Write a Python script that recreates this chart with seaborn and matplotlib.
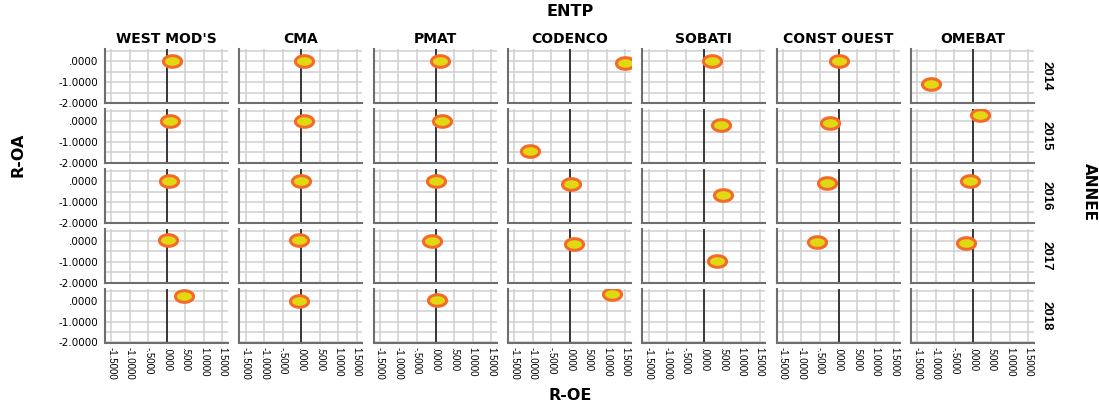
import numpy as np
import pandas as pd
import seaborn as sns
import matplotlib.pyplot as plt
from matplotlib.path import Path
from matplotlib.markers import MarkerStyle
from matplotlib.ticker import FuncFormatter
from matplotlib import font_manager

entp = ["WEST MOD'S", "CMA", "PMAT", "CODENCO", "SOBATI", "CONST OUEST", "OMEBAT"]
annees = [2014, 2015, 2016, 2017, 2018]

# R-OE (x) and R-OA (y) per year, one value per company (None = no data)
roe_2014 = [0.13, 0.07, 0.11, 1.49, 0.20, 0.00, -1.14]
roa_2014 = [0.03, 0.03, 0.03, -0.08, 0.00, 0.00, -1.10]
roe_2015 = [0.08, 0.07, 0.17, -1.08, 0.44, -0.22, 0.20]
roa_2015 = [0.03, 0.03, 0.03, -1.41, -0.20, -0.07, 0.29]
roe_2016 = [0.07, 0.00, 0.00, 0.03, 0.51, -0.32, -0.07]
roa_2016 = [0.03, 0.03, 0.03, -0.13, -0.68, -0.07, 0.03]
roe_2017 = [0.03, -0.07, -0.10, 0.11, 0.35, -0.57, -0.18]
roa_2017 = [0.03, 0.03, 0.00, -0.16, -0.98, -0.02, -0.08]
roe_2018 = [0.47, -0.05, 0.03, 1.14, None, None, None]
roa_2018 = [0.24, 0.00, 0.07, 0.34, None, None, None]

x_ticks = [-1.5, -1.0, -0.5, 0.0, 0.5, 1.0, 1.5]
y_ticks = [0.0, -1.0, -2.0]

roe = [roe_2014, roe_2015, roe_2016, roe_2017, roe_2018]
roa = [roa_2014, roa_2015, roa_2016, roa_2017, roa_2018]
rows = []
for annee, xs, ys in zip(annees, roe, roa):
    for e, x, y in zip(entp, xs, ys):
        if x is not None:
            rows.append({"ENTP": e, "ANNEE": annee, "R-OE": x, "R-OA": y})
df = pd.DataFrame(rows)

names = {f.name for f in font_manager.fontManager.ttflist}
narrow = "Liberation Sans Narrow" if "Liberation Sans Narrow" in names else "Liberation Sans"


def fmt(v, pos=None):
    s = f"{v + 0.0:.4f}"
    if abs(v) < 1:
        s = s.replace("0.", ".", 1)
    return s


# stretched round marker like the original export
t = np.linspace(0, 2 * np.pi, 64)
ellipse = MarkerStyle(Path(np.column_stack([np.cos(t), 0.64 * np.sin(t)]), closed=True))

g = sns.FacetGrid(df, row="ANNEE", col="ENTP", row_order=annees, col_order=entp,
                  height=0.8, aspect=1.6, despine=False)
g.map_dataframe(sns.scatterplot, x="R-OE", y="R-OA", marker=ellipse, s=170,
                color="#e0d812", edgecolor="#f46a2a", linewidth=2.2, zorder=3)
g.set_titles("")
g.set_axis_labels("", "")

fig = g.figure
fig.set_size_inches(10.99, 4.03)
fig.subplots_adjust(left=105 / 1099, right=1034 / 1099, top=1 - 49 / 403,
                    bottom=1 - 342.5 / 403, wspace=0.092, hspace=0.11)

for i, annee in enumerate(annees):
    for j, e in enumerate(entp):
        ax = g.axes[i, j]
        ax.set_xlim(-1.67, 1.65)
        ax.set_ylim(-2.0, 0.6)
        ax.set_xticks(x_ticks)
        ax.set_yticks(y_ticks)
        ax.set_yticks([0.5, -0.5, -1.5], minor=True)
        ax.grid(True, which="both", color="#d0d0d0", lw=1.1, zorder=0)
        ax.axvline(0, color="#2a2a2a", lw=1.3, zorder=2)
        ax.tick_params(which="both", length=0)
        ax.tick_params(axis="y", pad=5, labelsize=7.5)
        ax.tick_params(axis="x", pad=3, labelsize=7, labelrotation=-90)
        for side in ["top", "right"]:
            ax.spines[side].set_visible(False)
        for side in ["left", "bottom"]:
            ax.spines[side].set_color("#6e6e6e")
            ax.spines[side].set_linewidth(1.5)
        if i == 0:
            ax.set_title(e, fontweight="bold", fontsize=10, pad=4)
        if j == len(entp) - 1:
            ax.text(1.05, 0.5, str(annee), transform=ax.transAxes, rotation=-90,
                    ha="left", va="center", family=narrow, fontweight="bold", fontsize=9.5)

g.axes[0, 0].xaxis.set_major_formatter(FuncFormatter(fmt))
g.axes[0, 0].yaxis.set_major_formatter(FuncFormatter(fmt))
for ax in g.axes[-1, :]:
    for lbl in ax.get_xticklabels():
        lbl.set_family(narrow)

fig.text(0.519, 1 - 12 / 403, "ENTP", ha="center", va="center", fontweight="bold", fontsize=11.5)
fig.text(0.519, 1 - 396 / 403, "R-OE", ha="center", va="center", fontweight="bold", fontsize=11.5)
fig.text(18 / 1099, 1 - 155 / 403, "R-OA", ha="center", va="center", rotation=90,
         fontweight="bold", fontsize=11.5)
fig.text(1089 / 1099, 1 - 192 / 403, "ANNEE", ha="center", va="center", rotation=-90,
         fontweight="bold", fontsize=11)

plt.savefig("out.png", dpi=100)
